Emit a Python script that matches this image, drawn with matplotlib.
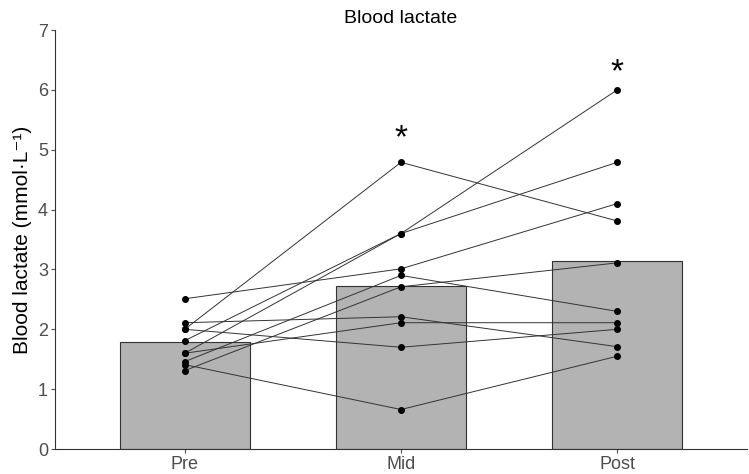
import numpy as np
import matplotlib.pyplot as plt

plt.rcParams['font.family'] = ['Liberation Sans', 'DejaVu Sans']

phases = ['Pre', 'Mid', 'Post']

# individual subjects, blood lactate (mmol/L)
pre = [2.51, 2.11, 2.00, 2.00, 1.81, 1.60, 1.60, 1.46, 1.41, 1.31]
mid = [3.01, 2.21, 4.79, 1.70, 3.60, 3.60, 2.11, 2.90, 0.66, 2.71]
post = [4.10, 1.71, 3.81, 2.00, 6.00, 4.79, 2.11, 2.30, 1.55, 3.11]

sig_phases = ['Mid', 'Post']
sig_y = [5.18, 6.28]

means = [np.mean(pre), np.mean(mid), np.mean(post)]
x = np.arange(len(phases))

fig = plt.figure(figsize=(7.49, 4.74), dpi=100)
ax = fig.add_axes([0.0734, 0.0527, 0.9239, 0.884])

ax.bar(x, means, width=0.6, color='#b3b3b3', edgecolor='#333333', linewidth=0.8, zorder=1)

subj = np.array([pre, mid, post]).T
for row in subj:
    ax.plot(x, row, color='#333333', linewidth=0.7, marker='o', markersize=4,
            markerfacecolor='black', markeredgecolor='black', zorder=3)

for p, y in zip(sig_phases, sig_y):
    ax.text(phases.index(p), y, '*', ha='center', va='center', fontsize=24, color='black')

ax.set_xlim(-0.6, 2.6)
ax.set_ylim(0, 7)
ax.set_xticks(x)
ax.set_xticklabels(phases)
ax.set_yticks(range(8))
ax.tick_params(colors='#4d4d4d', labelsize=13, length=3, width=0.8, pad=2)
for s in ['top', 'right']:
    ax.spines[s].set_visible(False)
for s in ['left', 'bottom']:
    ax.spines[s].set_color('#333333')
    ax.spines[s].set_linewidth(0.8)

ax.set_ylabel('Blood lactate (mmol·L⁻¹)', fontsize=15, color='black', labelpad=4)
ax.set_title('Blood lactate', fontsize=14, color='black', pad=5)

fig.savefig('out.png', dpi=100)
